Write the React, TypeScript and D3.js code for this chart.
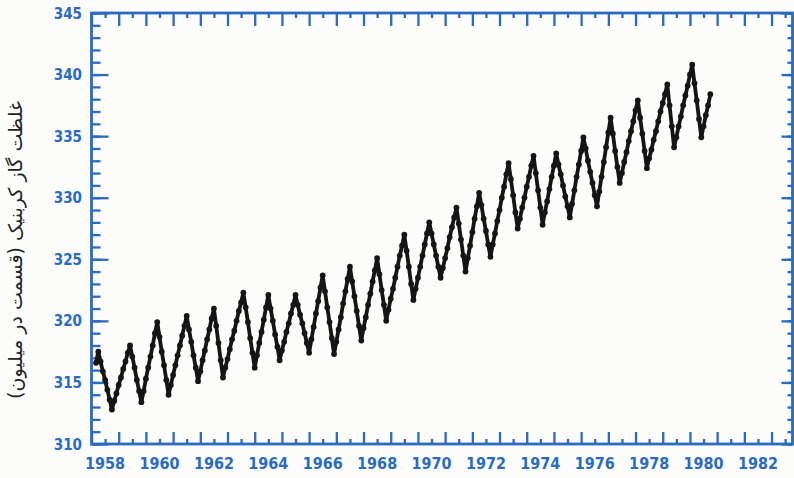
import React, { useEffect, useRef } from 'react';
import * as d3 from "d3";

const firstYear = 1958;
// monthly CO2 readings (Jan..Dec), one row per year, null = no reading
const co2Rows = [
	[null, null, 316.6, 317.5, 316.7, 315.9, 315.2, 314.4, 313.6, 312.8, 313.5, 314.1], // 1958
	[314.8, 315.4, 316.1, 316.7, 317.4, 318.0, 317.1, 316.2, 315.2, 314.3, 313.4, 314.3], // 1959
	[315.3, 316.2, 317.1, 318.0, 319.0, 319.9, 318.7, 317.5, 316.4, 315.2, 314.0, 314.8], // 1960
	[315.6, 316.4, 317.2, 318.0, 318.8, 319.6, 320.4, 319.3, 318.3, 317.2, 316.2, 315.1], // 1961
	[315.9, 316.8, 317.6, 318.5, 319.3, 320.2, 321.0, 319.6, 318.2, 316.8, 315.4, 316.2], // 1962
	[316.9, 317.7, 318.5, 319.2, 320.0, 320.8, 321.5, 322.3, 321.1, 319.9, 318.6, 317.4], // 1963
	[316.2, 317.2, 318.2, 319.1, 320.1, 321.1, 322.1, 321.0, 320.0, 318.9, 317.9, 316.8], // 1964
	[317.6, 318.3, 319.1, 319.8, 320.6, 321.3, 322.1, 321.3, 320.5, 319.8, 319.0, 318.2], // 1965
	[317.4, 318.5, 319.5, 320.6, 321.6, 322.7, 323.7, 322.4, 321.1, 319.9, 318.6, 317.3], // 1966
	[318.3, 319.3, 320.3, 321.4, 322.4, 323.4, 324.4, 323.2, 322.0, 320.8, 319.6, 318.4], // 1967
	[319.4, 320.3, 321.3, 322.2, 323.2, 324.1, 325.1, 323.8, 322.5, 321.3, 320.0, 320.9], // 1968
	[321.8, 322.6, 323.5, 324.4, 325.3, 326.1, 327.0, 325.7, 324.4, 323.0, 321.7, 322.6], // 1969
	[323.5, 324.4, 325.3, 326.2, 327.1, 328.0, 327.1, 326.2, 325.3, 324.4, 323.5, 324.3], // 1970
	[325.1, 325.9, 326.8, 327.6, 328.4, 329.2, 327.9, 326.6, 325.3, 324.0, 325.1, 326.1], // 1971
	[327.2, 328.3, 329.3, 330.4, 329.4, 328.3, 327.3, 326.2, 325.2, 326.2, 327.1, 328.1], // 1972
	[329.0, 330.0, 330.9, 331.9, 332.8, 331.5, 330.2, 328.8, 327.5, 328.3, 329.2, 330.0], // 1973
	[330.9, 331.7, 332.6, 333.4, 332.0, 330.6, 329.2, 327.8, 328.8, 329.7, 330.7, 331.7], // 1974
	[332.6, 333.6, 332.7, 331.9, 331.0, 330.1, 329.3, 328.4, 329.5, 330.6, 331.7, 332.7], // 1975
	[333.8, 334.9, 334.0, 333.0, 332.1, 331.2, 330.2, 329.3, 330.5, 331.7, 332.9, 334.1], // 1976
	[335.3, 336.5, 335.2, 333.8, 332.5, 331.2, 332.0, 332.9, 333.7, 334.6, 335.4, 336.2], // 1977
	[337.1, 337.9, 336.5, 335.2, 333.8, 332.4, 333.2, 333.9, 334.7, 335.4, 336.2, 337.0], // 1978
	[337.7, 338.4, 339.2, 337.5, 335.8, 334.1, 334.9, 335.8, 336.6, 337.5, 338.3, 339.1], // 1979
	[340.0, 340.8, 339.3, 337.9, 336.4, 334.9, 335.8, 336.7, 337.5, 338.4], // 1980
];

const yTicks = [310, 315, 320, 325, 330, 335, 340, 345];
const xLabels = [1958, 1960, 1962, 1964, 1966, 1968, 1970, 1972, 1974, 1976, 1978, 1980, 1982];
const yTitle = 'غلظت گاز کربنیک (قسمت در میلیون)';

const blue = '#2a6bc2';

function App() {
	const svgRef = useRef(null);

	useEffect(() => {
		document.body.style.margin = '0';
		const w = 794;
		const h = 478;
		const svg = d3.select(svgRef.current)
			.attr('width', w)
			.attr('height', h);
		svg.selectAll('*').remove();

		svg.append('rect').attr('width', w).attr('height', h).attr('fill', '#fcfcfb');

		const x = d3.scaleLinear().domain([1958, 1983.77]).range([91.5, 792.5]);
		const y = d3.scaleLinear().domain([310, 345]).range([444, 13]);

		const yMinor = d3.range(310, 346);
		const years = d3.range(1958, 1984);
		const halfYears = years.map(d => d + 0.5);

		const styleAxis = (g) => {
			g.select('.domain').remove();
			g.selectAll('line').attr('stroke', blue).attr('stroke-width', 2.3);
		};

		// left axis, ticks pointing in
		svg.append('g').attr('transform', `translate(${x.range()[0]},0)`)
			.call(d3.axisRight(y).tickValues(yMinor).tickSize(9).tickFormat(() => ''))
			.call(styleAxis);
		svg.append('g').attr('transform', `translate(${x.range()[0]},0)`)
			.call(d3.axisRight(y).tickValues(yTicks).tickSize(17).tickFormat(() => ''))
			.call(styleAxis);
		// right axis
		svg.append('g').attr('transform', `translate(${x.range()[1]},0)`)
			.call(d3.axisLeft(y).tickValues(yMinor).tickSize(5).tickFormat(() => ''))
			.call(styleAxis);
		svg.append('g').attr('transform', `translate(${x.range()[1]},0)`)
			.call(d3.axisLeft(y).tickValues(yTicks).tickSize(11).tickFormat(() => ''))
			.call(styleAxis);
		// top axis
		svg.append('g').attr('transform', `translate(0,${y.range()[1]})`)
			.call(d3.axisBottom(x).tickValues(years).tickSize(13).tickFormat(() => ''))
			.call(styleAxis);
		svg.append('g').attr('transform', `translate(0,${y.range()[1]})`)
			.call(d3.axisBottom(x).tickValues(halfYears).tickSize(5).tickFormat(() => ''))
			.call(styleAxis);
		// bottom axis
		svg.append('g').attr('transform', `translate(0,${y.range()[0]})`)
			.call(d3.axisTop(x).tickValues(years).tickSize(12).tickFormat(() => ''))
			.call(styleAxis);
		svg.append('g').attr('transform', `translate(0,${y.range()[0]})`)
			.call(d3.axisTop(x).tickValues(halfYears).tickSize(5).tickFormat(() => ''))
			.call(styleAxis);

		// frame
		svg.append('rect')
			.attr('x', x.range()[0])
			.attr('y', y.range()[1])
			.attr('width', x.range()[1] - x.range()[0])
			.attr('height', y.range()[0] - y.range()[1])
			.attr('fill', 'none')
			.attr('stroke', blue)
			.attr('stroke-width', 2.8);

		// tick labels
		svg.append('g').selectAll('text')
			.data(yTicks)
			.join('text')
			.attr('x', 82)
			.attr('y', d => y(d) + 5.5)
			.attr('text-anchor', 'end')
			.attr('fill', blue)
			.attr('font-family', "'DejaVu Sans Condensed', 'DejaVu Sans'")
			.style('font-stretch', 'condensed')
			.attr('font-weight', 'bold')
			.attr('font-size', 15)
			.text(d => d);

		svg.append('g').selectAll('text')
			.data(xLabels)
			.join('text')
			.attr('x', d => x(d + 0.5))
			.attr('y', 469)
			.attr('text-anchor', 'middle')
			.attr('fill', blue)
			.attr('font-family', "'DejaVu Sans Condensed', 'DejaVu Sans'")
			.style('font-stretch', 'condensed')
			.attr('font-weight', 'bold')
			.attr('font-size', 16)
			.text(d => d);

		// y title
		svg.append('text')
			.attr('transform', 'translate(22,250) rotate(-90)')
			.attr('text-anchor', 'middle')
			.attr('fill', '#222')
			.attr('font-family', 'DejaVu Sans')
			.attr('font-size', 19)
			.text(yTitle);

		// data
		const points = [];
		co2Rows.forEach((row, i) => {
			row.forEach((v, m) => {
				if (v != null) points.push({ t: firstYear + i + m / 12, v });
			});
		});

		const line = d3.line()
			.x(d => x(d.t))
			.y(d => y(d.v));

		svg.append('path')
			.datum(points)
			.attr('d', line)
			.attr('fill', 'none')
			.attr('stroke', '#151515')
			.attr('stroke-width', 3.8)
			.attr('stroke-linejoin', 'round');

		svg.append('g').selectAll('circle')
			.data(points)
			.join('circle')
			.attr('cx', d => x(d.t))
			.attr('cy', d => y(d.v))
			.attr('r', 2.9)
			.attr('fill', '#151515');
	}, []);

	return (
		<div>
			<svg ref={svgRef} style={{ display: 'block' }} />
		</div>
	);
}

export default App;
